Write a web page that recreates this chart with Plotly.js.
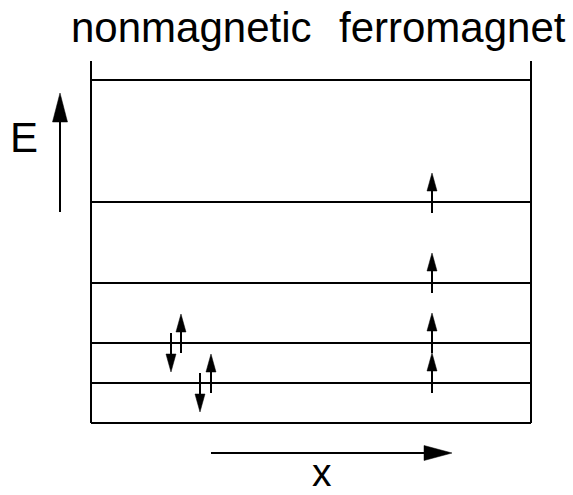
<!DOCTYPE html>
<html>
<head>
<meta charset="utf-8">
<script src="https://cdn.plot.ly/plotly-3.0.1.min.js"></script>
<style>html,body{margin:0;padding:0;background:#fff;}#chart{width:573px;height:495px;}</style>
</head>
<body>
<div id="chart"></div>
<script>
// ---- data ----
const levelEnergies = [0, 1, 2, 3.5, 5.525, 8.575];   // horizontal energy levels
const boxX = [0, 10];                                   // position extent of the box
const wallTop = 9.05;                                   // top of the side walls

// spin arrows (x position, start energy, tip energy)
const spinX    = [1.818, 2.045, 2.477, 2.727, 7.75, 7.75, 7.75, 7.75];
const spinFrom = [2.25,  1.75,  1.25,  0.75,  5.25, 3.25, 1.75, 0.75];
const spinTo   = [1.275, 2.725, 0.275, 1.725, 6.25, 4.25, 2.75, 1.75];

// axis arrows
const eArrowX = -0.7045, eArrowFrom = 5.275, eArrowTo = 8.25;
const xArrowE = -0.75, xArrowFrom = 2.727, xArrowTo = 8.205;

// labels
const topLabels = ['nonmagnetic', 'ferromagnet'];
const topLabelX = [2.295, 8.227];
const topLabelE = 9.88;
const eLabel = {text: 'E', x: -1.523, y: 7.14};
const xLabel = {text: 'x', x: 5.25, y: -1.8};

// ---- scales (pixels per unit) ----
const PX_X = 44, PX_E = 40;
const FONT = 'Liberation Sans, Arial, Helvetica, sans-serif';

const traces = [];
function line(xs, ys, w) {
  traces.push({type: 'scatter', mode: 'lines', x: xs, y: ys,
    line: {color: '#000', width: w}, hoverinfo: 'skip', showlegend: false});
}
function arrow(x0, y0, x1, y1, headLen, halfW, w) {
  const dxp = (x1 - x0) * PX_X, dyp = (y1 - y0) * PX_E;
  const L = Math.hypot(dxp, dyp);
  const ux = dxp / L, uy = dyp / L;
  const nx = -uy, ny = ux;
  const bx = x1 - ux * headLen / PX_X, by = y1 - uy * headLen / PX_E;
  line([x0, bx + ux * 2 / PX_X], [y0, by + uy * 2 / PX_E], w);
  traces.push({type: 'scatter', mode: 'lines', fill: 'toself', fillcolor: '#000',
    x: [x1, bx + nx * halfW / PX_X, bx - nx * halfW / PX_X, x1],
    y: [y1, by + ny * halfW / PX_E, by - ny * halfW / PX_E, y1],
    line: {color: '#000', width: 0.5}, hoverinfo: 'skip', showlegend: false});
}

levelEnergies.forEach(e => line(boxX, [e, e], 2));
line([boxX[0], boxX[0]], [levelEnergies[0], wallTop], 2);
line([boxX[1], boxX[1]], [levelEnergies[0], wallTop], 2);
spinX.forEach((x, i) => arrow(x, spinFrom[i], x, spinTo[i], 18, 5, 2));
arrow(eArrowX, eArrowFrom, eArrowX, eArrowTo, 29, 7.5, 2);
arrow(xArrowFrom, xArrowE, xArrowTo, xArrowE, 28, 7.5, 2);

const annotations = topLabels.map((t, i) => ({
  text: t, x: topLabelX[i], y: topLabelE, xref: 'x', yref: 'y',
  showarrow: false, xanchor: 'center', yanchor: 'middle',
  font: {family: FONT, size: 42, color: '#000'}
}));
annotations.push({text: eLabel.text, x: eLabel.x, y: eLabel.y, xref: 'x', yref: 'y',
  showarrow: false, xanchor: 'center', yanchor: 'middle', font: {family: FONT, size: 42, color: '#000'}});
annotations.push({text: xLabel.text, x: xLabel.x, y: xLabel.y, xref: 'x', yref: 'y',
  showarrow: false, xanchor: 'center', yanchor: 'bottom', borderpad: 0,
  font: {family: FONT, size: 39, color: '#000'}});

const layout = {
  width: 573, height: 495,
  margin: {l: 0, r: 0, t: 0, b: 0},
  paper_bgcolor: '#fff', plot_bgcolor: '#fff',
  showlegend: false,
  xaxis: {range: [-91 / PX_X, 482 / PX_X], visible: false, fixedrange: true},
  yaxis: {range: [-72 / PX_E, 423 / PX_E], visible: false, fixedrange: true},
  annotations: annotations
};
Plotly.newPlot('chart', traces, layout, {staticPlot: true, displayModeBar: false});
</script>
</body>
</html>
